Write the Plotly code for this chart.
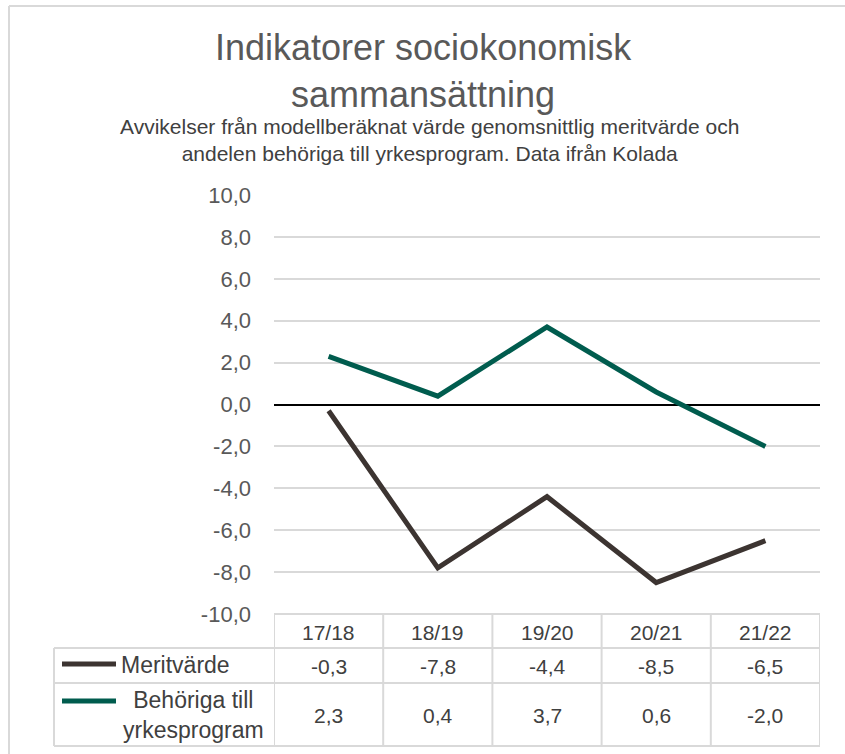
import plotly.graph_objects as go

lasar = ["17/18", "18/19", "19/20", "20/21", "21/22"]
meritvarde = [-0.3, -7.8, -4.4, -8.5, -6.5]
behoriga = [2.3, 0.4, 3.7, 0.6, -2.0]
serie_namn = ["Meritvärde", "Behöriga till<br>yrkesprogram"]
farger = ["#3C3431", "#005C4E"]
y_ticks = [-10, -8, -6, -4, -2, 0, 2, 4, 6, 8, 10]

W, H = 845, 754
L, R, T, B = 274, 820, 195, 614
FONT = "Liberation Sans, Arial, sans-serif"
GRID = "#D9D9D9"
TEXT = "#404040"


def px(p):
    return (p - L) / (R - L)


def py(p):
    return (B - p) / (B - T)


def fmt(v):
    # Excel-stil: decimalkomma och vanligt bindestreck som minus
    return f"{v:.1f}".replace(".", ",")


fig = go.Figure()
for namn, varden, farg in zip(serie_namn, [meritvarde, behoriga], farger):
    fig.add_trace(go.Scatter(x=lasar, y=varden, mode="lines", name=namn.replace("<br>", " "),
                             line=dict(color=farg, width=5)))

shapes = []
# ram runt diagrammet
shapes.append(dict(type="line", xref="paper", yref="paper", x0=px(9), x1=px(850), y0=py(6), y1=py(6),
                   line=dict(color=GRID, width=2)))
shapes.append(dict(type="line", xref="paper", yref="paper", x0=px(9), x1=px(9), y0=py(6), y1=py(760),
                   line=dict(color=GRID, width=2)))
# tabellens linjer
shapes.append(dict(type="line", xref="paper", yref="paper", x0=0, x1=1, y0=py(B), y1=py(B),
                   line=dict(color=GRID, width=2)))
for y in [648, 683, 746]:
    shapes.append(dict(type="line", xref="paper", yref="paper", x0=px(54), x1=1, y0=py(y), y1=py(y),
                       line=dict(color=GRID, width=2)))
shapes.append(dict(type="line", xref="paper", yref="paper", x0=px(54), x1=px(54), y0=py(648), y1=py(746),
                   line=dict(color=GRID, width=2)))
for i in range(len(lasar) + 1):
    shapes.append(dict(type="line", xref="x", yref="paper", x0=i - 0.5, x1=i - 0.5, y0=py(B), y1=py(746),
                       line=dict(color=GRID, width=2)))
# legendnycklar
for farg, y in zip(farger, [664, 701]):
    shapes.append(dict(type="line", xref="paper", yref="paper", x0=px(62), x1=px(116), y0=py(y), y1=py(y),
                       line=dict(color=farg, width=5)))

annotations = []
annotations.append(dict(text="Indikatorer sociokonomisk<br>sammansättning", xref="paper", yref="paper",
                        x=px(423), y=py(71), xanchor="center", yanchor="middle", showarrow=False,
                        font=dict(size=36, color="#595959", family=FONT)))
annotations.append(dict(text="Avvikelser från modellberäknat värde genomsnittlig meritvärde och<br>"
                             "andelen behöriga till yrkesprogram. Data ifrån Kolada",
                        xref="paper", yref="paper", x=px(429), y=py(140), xanchor="center", yanchor="middle",
                        showarrow=False, font=dict(size=21, color=TEXT, family=FONT)))
for i, lab in enumerate(lasar):
    for text, y in [(lab, 632), (fmt(meritvarde[i]), 666), (fmt(behoriga[i]), 715)]:
        annotations.append(dict(text=text, xref="x", yref="paper", x=lab, y=py(y), xanchor="center",
                                yanchor="middle", showarrow=False,
                                font=dict(size=21, color=TEXT, family=FONT)))
annotations.append(dict(text=serie_namn[0], xref="paper", yref="paper", x=px(119), y=py(665),
                        xanchor="left", yanchor="middle", showarrow=False,
                        font=dict(size=23, color=TEXT, family=FONT)))
annotations.append(dict(text=serie_namn[1], xref="paper", yref="paper", x=px(193), y=py(715),
                        xanchor="center", yanchor="middle", align="center", showarrow=False,
                        font=dict(size=23, color=TEXT, family=FONT)))

fig.update_layout(
    width=W, height=H,
    margin=dict(l=L, r=W - R, t=T, b=H - B, autoexpand=False),
    paper_bgcolor="white", plot_bgcolor="white",
    showlegend=False,
    font=dict(family=FONT),
    shapes=shapes,
    annotations=annotations,
    xaxis=dict(type="category", range=[-0.5, len(lasar) - 0.5], showticklabels=False,
               showgrid=False, zeroline=False, showline=False),
    yaxis=dict(range=[-10, 10], tickvals=y_ticks, ticktext=[fmt(v) for v in y_ticks],
               showgrid=True, gridcolor=GRID, gridwidth=2,
               zeroline=True, zerolinecolor="black", zerolinewidth=2, showline=False,
               ticklabelstandoff=22, tickfont=dict(size=22, color="#595959", family=FONT)),
)

fig.write_html("out.html", config={"displayModeBar": False},
               post_script="document.body.style.margin='0';")
